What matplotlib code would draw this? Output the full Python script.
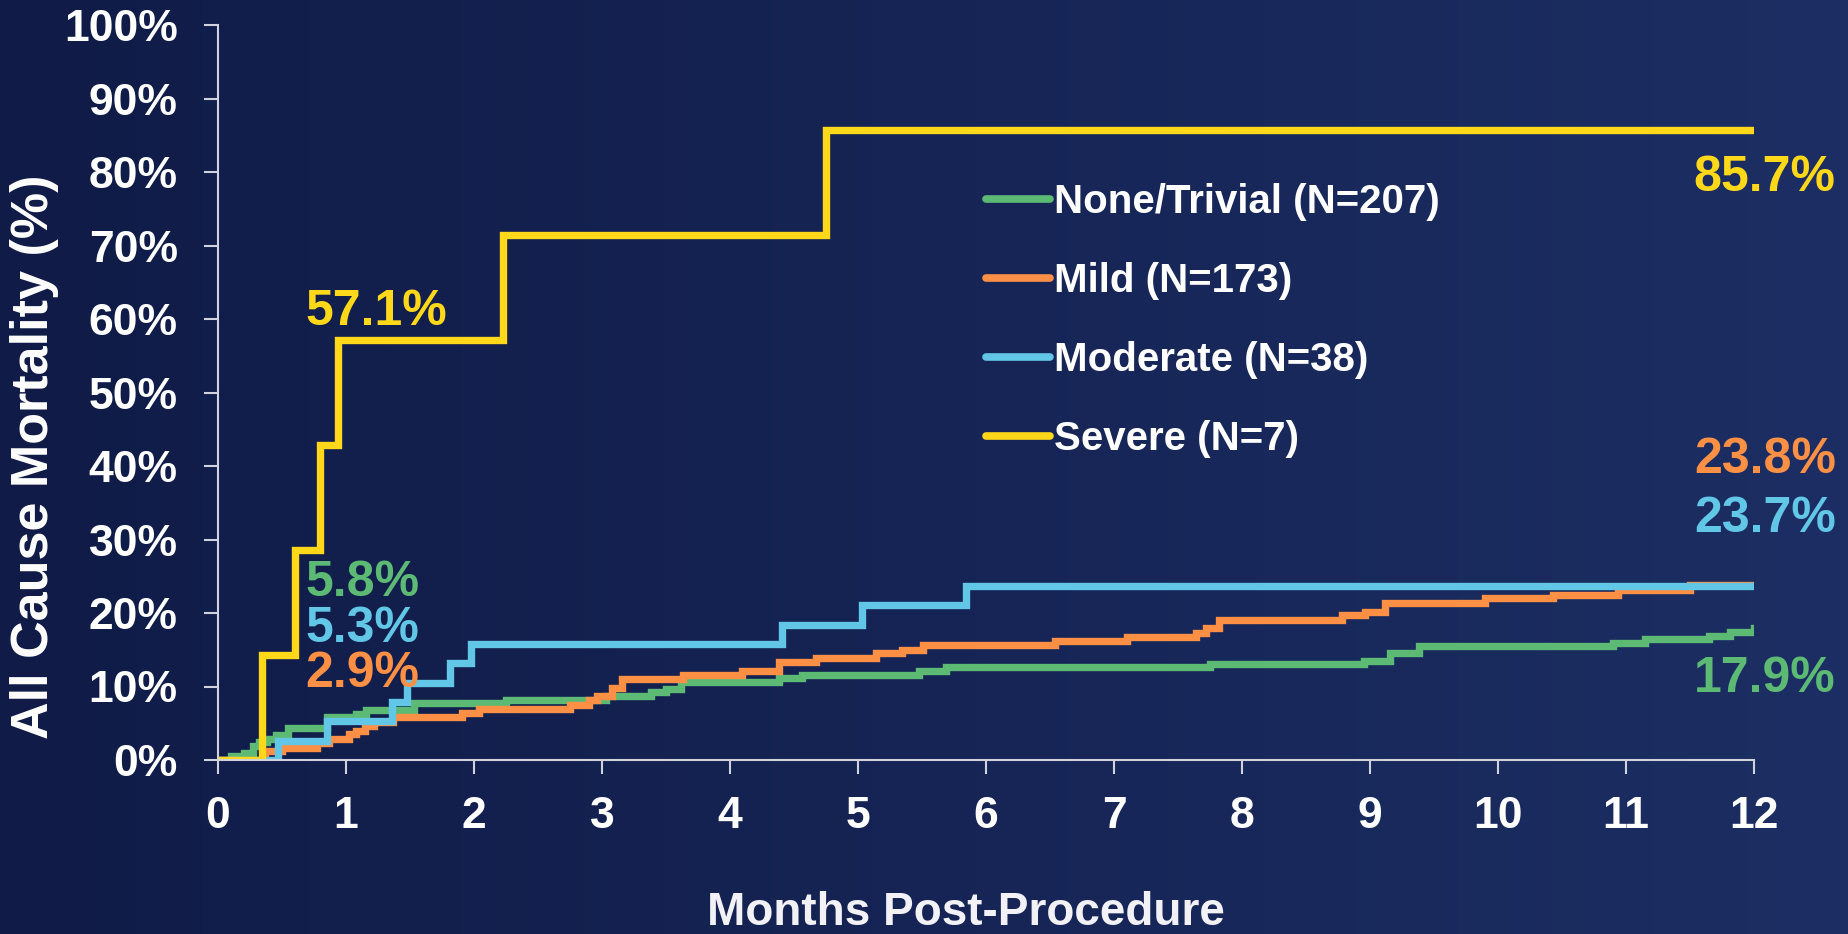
import matplotlib.pyplot as plt
import numpy as np
from matplotlib.colors import LinearSegmentedColormap

plt.rcParams['font.family'] = ['Liberation Sans', 'DejaVu Sans']
plt.rcParams['font.weight'] = 'bold'

# step curves (months, %)
none_t = [0, 0.10, 0.20, 0.27, 0.32, 0.38, 0.45, 0.55, 0.85, 1.08, 1.16, 1.53, 2.25, 3.03, 3.38,
          3.50, 3.62, 4.38, 4.56, 5.48, 5.69, 7.75, 8.95, 9.16, 9.38, 10.90, 11.15, 11.65, 11.81, 12]
none_y = [0, 0.5, 1.0, 1.9, 2.4, 2.9, 3.4, 4.4, 5.8, 6.3, 6.8, 7.7, 8.2, 8.7, 9.2,
          9.7, 10.6, 11.1, 11.6, 12.1, 12.6, 13.0, 13.5, 14.5, 15.5, 15.9, 16.4, 16.9, 17.4, 17.9]

mild_t = [0, 0.37, 0.50, 0.77, 0.87, 1.02, 1.08, 1.15, 1.22, 1.37, 1.91, 2.04, 2.75, 2.90, 2.96,
          3.08, 3.16, 3.63, 4.09, 4.38, 4.67, 5.14, 5.34, 5.51, 6.54, 7.10, 7.64, 7.72, 7.82, 8.78,
          8.96, 9.12, 9.90, 10.43, 10.94, 11.50, 12]
mild_y = [0, 1.2, 1.7, 2.3, 2.9, 3.5, 4.0, 4.6, 5.2, 5.8, 6.4, 6.9, 7.5, 8.1, 8.7,
          9.8, 11.0, 11.6, 12.1, 13.3, 13.9, 14.5, 15.0, 15.6, 16.2, 16.8, 17.3, 17.9, 19.1, 19.7,
          20.2, 21.4, 22.0, 22.5, 23.1, 23.8, 23.8]

mod_t = [0, 0.47, 0.85, 1.36, 1.48, 1.81, 1.98, 4.41, 5.03, 5.84, 12]
mod_y = [0, 2.6, 5.3, 7.9, 10.5, 13.2, 15.8, 18.4, 21.1, 23.7, 23.7]

sev_t = [0, 0.34, 0.60, 0.80, 0.94, 2.23, 4.75, 12]
sev_y = [0, 14.3, 28.6, 42.9, 57.1, 71.4, 85.7, 85.7]

labels = ['None/Trivial (N=207)', 'Mild (N=173)', 'Moderate (N=38)', 'Severe (N=7)']
colors = ['#5dba74', '#fd9045', '#62c6e6', '#ffd81a']

fig = plt.figure(figsize=(18.48, 9.34), dpi=100)

# background gradient
bg = fig.add_axes([0, 0, 1, 1], zorder=-1)
cmap = LinearSegmentedColormap.from_list('bg', ['#101b47', '#1c2e63'])
bg.imshow(np.linspace(0, 1, 256).reshape(1, -1), cmap=cmap, aspect='auto', extent=[0, 1, 0, 1])
bg.axis('off')

ax = fig.add_axes([218 / 1848, 1 - 760 / 934, 1536 / 1848, 735 / 934])
ax.set_facecolor('none')

series = [(none_t, none_y), (mild_t, mild_y), (mod_t, mod_y), (sev_t, sev_y)]
for (t, y), lab, c in zip(series, labels, colors):
    ax.step(t, y, where='post', color=c, lw=5.3, label=lab, solid_joinstyle='miter')

ax.set_xlim(0, 12)
ax.set_ylim(0, 100)
ax.set_xticks(range(0, 13))
ax.set_yticks(range(0, 101, 10))
ax.set_yticklabels([f'{v}%' for v in range(0, 101, 10)])
for s in ['top', 'right']:
    ax.spines[s].set_visible(False)
for s in ['left', 'bottom']:
    ax.spines[s].set_color('#d0d2dc')
    ax.spines[s].set_linewidth(1.5)
ax.tick_params(axis='both', colors='#d0d2dc', width=1.5, length=10, labelcolor='white', labelsize=32)
ax.tick_params(axis='y', pad=19)
ax.tick_params(axis='x', pad=16)
for lbl in ax.get_xticklabels() + ax.get_yticklabels():
    lbl.set_fontweight('bold')

fig.text(35 / 1848, 1 - 457 / 934, 'All Cause Mortality (%)', rotation=90, ha='center', va='center',
         color='white', fontsize=37.5, fontweight='bold')
fig.text(966 / 1848, 1 - 913 / 934, 'Months Post-Procedure', ha='center', va='center',
         color='#f2f2f6', fontsize=33, fontweight='bold')

leg = ax.legend(loc='upper left', bbox_to_anchor=(986 / 1848, 1 - 183 / 934), bbox_transform=fig.transFigure,
                frameon=False, fontsize=29, handlelength=1.6, handletextpad=0.1, labelspacing=1.02,
                borderpad=0, borderaxespad=0)
for txt in leg.get_texts():
    txt.set_color('white')
    txt.set_fontweight('bold')
for h in leg.get_lines():
    h.set_linewidth(5.5)
    h.set_solid_capstyle('round')

# value annotations
notes = [
    ('57.1%', 0.68, 61.0, colors[3]),
    ('5.8%', 0.68, 24.1, colors[0]),
    ('5.3%', 0.68, 17.8, colors[2]),
    ('2.9%', 0.68, 11.7, colors[1]),
    ('85.7%', 11.53, 79.2, colors[3]),
    ('23.8%', 11.53, 40.8, colors[1]),
    ('23.7%', 11.53, 32.8, colors[2]),
    ('17.9%', 11.53, 11.0, colors[0]),
]
for s, x, y, c in notes:
    ax.text(x, y, s, color=c, fontsize=36, fontweight='bold', ha='left', va='center', clip_on=False)

fig.savefig('out.png', dpi=100)
